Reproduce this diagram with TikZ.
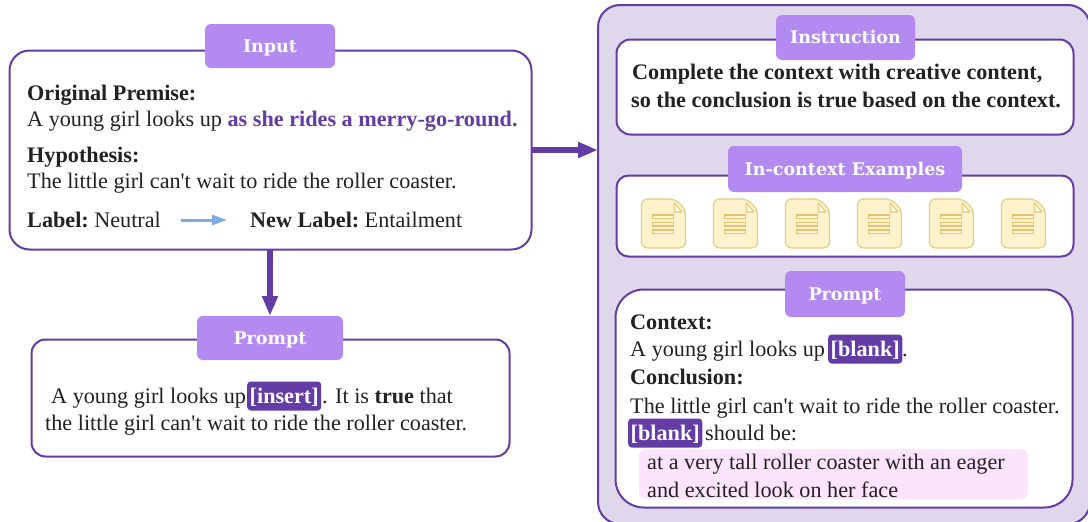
\documentclass[tikz,border=0pt]{standalone}
\usepackage{fontspec}
\setmainfont{Liberation Serif}
\newfontfamily\tabfont{DejaVu Serif}
\usetikzlibrary{arrows.meta}
\definecolor{deep}{HTML}{643CA5}
\definecolor{tabc}{HTML}{B38AF2}
\definecolor{panel}{HTML}{DFD7EC}
\definecolor{pinkc}{HTML}{FCE4FD}
\definecolor{docf}{HTML}{FFF2CC}
\definecolor{docd}{HTML}{E6CC80}
\definecolor{lblue}{HTML}{7EA9E6}
\definecolor{ink}{HTML}{222222}
\tikzset{
  x=1pt,y=-1pt,
  card/.style={draw=deep,line width=2pt,fill=white,rounded corners=20pt},
  tabbox/.style={fill=tabc,rounded corners=6pt},
  tabtxt/.style={text=white,font=\tabfont\bfseries\fontsize{17.5}{18}\selectfont,inner sep=0pt,text height=14pt,text depth=2pt},
  txt/.style={anchor=base west,inner sep=0pt,text=ink,font=\fontsize{22.2}{24}\selectfont},
  hl/.style={anchor=base west,fill=deep,text=white,rounded corners=3.5pt,inner xsep=2.5pt,inner ysep=0pt,font=\bfseries\fontsize{22.2}{24}\selectfont,text depth=7.5pt,text height=21.5pt},
  thickarrow/.style={draw=deep,line width=5.5pt,-{Triangle[length=20pt,width=15pt]}},
  docline/.style={draw=docd!85!orange,line width=1.1pt,fill=white!30!docf},
}
\begin{document}
\begin{tikzpicture}
\useasboundingbox (0,0) rectangle (1088,522);
% right panel
\fill[panel,draw=deep,line width=2pt,rounded corners=22pt] (598,5) rectangle (1090,524);
% cards
\node[card,minimum width=522pt,minimum height=199pt,anchor=north west,inner sep=0pt] (input) at (8.5,49.5) {};
\node[card,minimum width=478pt,minimum height=117pt,anchor=north west,inner sep=0pt,rounded corners=14pt] (prompta) at (30.5,338.5) {};
\node[card,minimum width=457pt,minimum height=95pt,anchor=north west,inner sep=0pt,rounded corners=14pt] (instr) at (615.5,38.5) {};
\node[card,minimum width=457pt,minimum height=81pt,anchor=north west,inner sep=0pt,rounded corners=12pt] (exam) at (615.5,174.5) {};
\node[card,minimum width=457pt,minimum height=218pt,anchor=north west,inner sep=0pt,rounded corners=28pt] (promptb) at (614.5,288.5) {};
% connectors
\draw[thickarrow] (270,249) coordinate (a1) -- (270,316) coordinate (a2);
\draw[thickarrow] (531,150) coordinate (b1) -- (598,150) coordinate (b2);
% tabs
\node[tabbox,tabtxt,minimum width=130pt,minimum height=44pt] (t1) at (270,46) {Input};
\node[tabbox,tabtxt,minimum width=146pt,minimum height=44pt] (t2) at (270,338) {Prompt};
\node[tabbox,tabtxt,minimum width=139pt,minimum height=45pt] (t3) at (845.5,37.5) {Instruction};
\node[tabbox,tabtxt,minimum width=234pt,minimum height=46pt] (t4) at (845,169) {In-context Examples};
\node[tabbox,tabtxt,minimum width=120pt,minimum height=46pt] (t5) at (845,294) {Prompt};
% input text
\node[txt] (i1) at (27,100) {\textbf{Original Premise:}};
\node[txt] (i2) at (27,126) {A young girl looks up \textcolor{deep}{\textbf{as she rides a merry-go-round.}}};
\node[txt] (i3) at (27,162) {\textbf{Hypothesis:}};
\node[txt] (i4) at (27,188) {The little girl can\textquotesingle t wait to ride the roller coaster.};
\node[txt] (i5) at (27,227) {\textbf{Label:}\kern-2pt{} Neutral};
\node[txt] (i6) at (250,227) {\textbf{New Label:}\kern-2pt{} Entailment};
\coordinate (l1) at (181,220);
\coordinate (l2) at (227,220);
\draw[lblue,line width=3pt,-{Triangle[length=15pt,width=10pt,fill=lblue!85]}] (l1) -- (l2);
% prompt a
\node[txt] (p1) at (51,403) {A young girl looks up};
\node[hl] (p2) at (247,403) {[insert]};
\node[txt] (p3) at (322,403) {. It is \textbf{true} that};
\node[txt] (p4) at (45,430) {the little girl can\textquotesingle t wait to ride the roller coaster.};
% instruction
\node[txt,font=\bfseries\fontsize{22.2}{24}\selectfont] (n1) at (632,79) {Complete the context with creative content,};
\node[txt,font=\bfseries\fontsize{22.2}{24}\selectfont] (n2) at (631,107) {so the conclusion is true based on the context.};
% docs
\foreach \k in {0,...,5}{
  \begin{scope}[xshift=\k*72pt]
    \draw[draw=docd,fill=docf,line width=1.2pt,rounded corners=6pt] (641.5,199) -- (675,199) -- (685.5,209.5) -- (685.5,248) -- (641.5,248) -- cycle;
    \draw[draw=docd,fill=white!60!docf,line width=1.2pt,line join=round] (674.5,203) -- (682,212) -- (674.5,212) -- cycle;
    \foreach \yy in {215,222.5,230}{
      \draw[docline] (652.5,\yy) rectangle (673.5,\yy+3.5);
    }
  \end{scope}
}
% prompt b
\node[txt] (c1) at (630,329) {\textbf{Context:}};
\node[txt] (c2) at (630,356) {A young girl looks up};
\node[hl] (c3) at (828,356) {[blank]};
\node[txt] (c4) at (902,356) {.};
\node[txt] (c5) at (630,384) {\textbf{Conclusion:}};
\node[txt] (c6) at (630,413) {The little girl can\textquotesingle t wait to ride the roller coaster.};
\node[hl] (c7) at (628,440) {[blank]};
\node[txt] (c8) at (705,440) {should be:};
\fill[pinkc,rounded corners=7pt] (639,449) rectangle (1028,499);
\node[txt] (c9) at (647,469) {at a very tall roller coaster with an eager};
\node[txt] (c10) at (647,497) {and excited look on her face};
\end{tikzpicture}
\end{document}
